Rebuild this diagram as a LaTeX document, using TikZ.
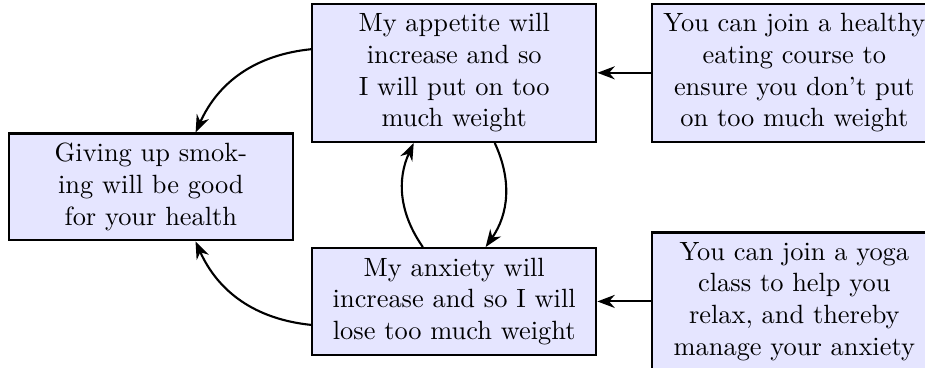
\documentclass[tikz,border=0pt]{standalone}
\usetikzlibrary{arrows.meta}

\begin{document}
\begin{tikzpicture}[thick, >=Stealth, x=1mm, y=1mm,
    idea/.style={draw, fill=blue!10, text width=3.55cm, align=center, inner ysep=3.7pt}]
  \useasboundingbox (0,0) rectangle (123.2,48.9);
  % Boxes: claim on the left, the two worries, the two answers.
  \node[idea] (giving)   at (20.1,24.0) {Giving up smoking will be good for your health};
  \node[idea] (appetite) at (60.5,39.2) {My appetite will increase and so I will put on too much weight};
  \node[idea] (anxiety)  at (60.5,8.75)  {My anxiety will increase and so I will lose too much weight};
  \node[idea] (eating)   at (105.8,39.2) {You can join a healthy eating course to ensure you don't put on too much weight};
  \node[idea] (yoga)     at (105.8,8.75)  {You can join a yoga class to help you relax, and thereby manage your anxiety};
  % Worries point back at the claim and at each other.
  \draw[->] (appetite) to[bend right] (giving);
  \draw[->] (anxiety) to[bend left] (giving);
  \draw[->] (appetite) to[bend left] (anxiety);
  \draw[->] (anxiety) to[bend left] (appetite);
  % Answers.
  \draw[->] (eating) -- (appetite);
  \draw[->] (yoga) -- (anxiety);
\end{tikzpicture}
\end{document}
